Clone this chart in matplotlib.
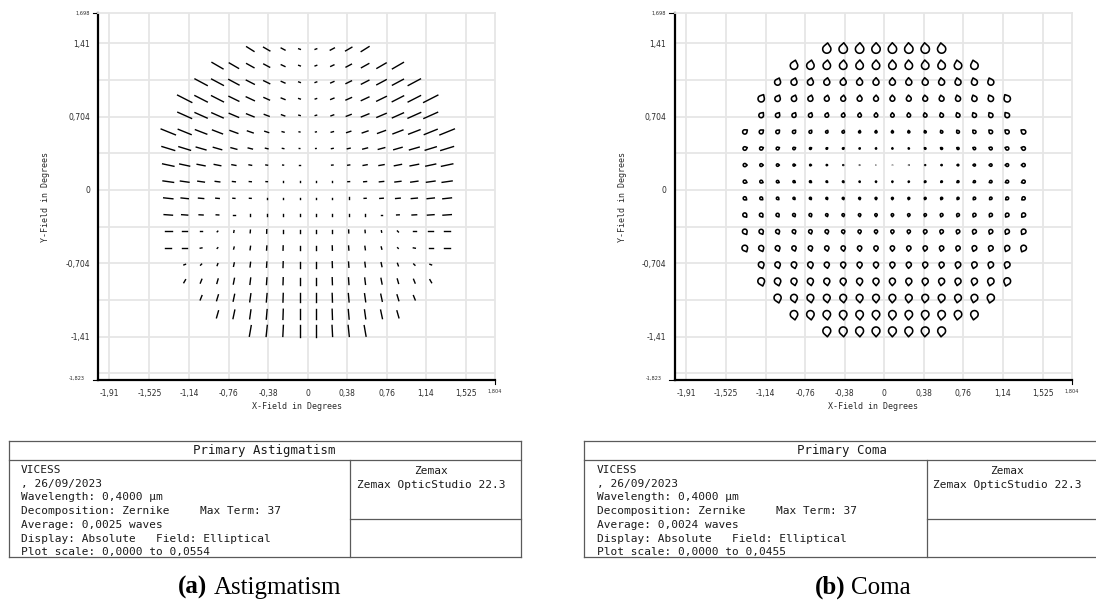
import numpy as np
import matplotlib
matplotlib.use("Agg")
import matplotlib.pyplot as plt
from matplotlib.collections import LineCollection, PatchCollection
from matplotlib.patches import PathPatch
from matplotlib.path import Path
from matplotlib.lines import Line2D

# ---------------------------------------------------------------- data
# field sample grid (degrees)
field_x = [-1.343, -1.185, -1.027, -0.869, -0.711, -0.553, -0.395, -0.237, -0.079,
           0.079, 0.237, 0.395, 0.553, 0.711, 0.869, 1.027, 1.185, 1.343]
field_y = [1.352, 1.193, 1.034, 0.875, 0.716, 0.557, 0.398, 0.239, 0.080,
           -0.080, -0.239, -0.398, -0.557, -0.716, -0.875, -1.034, -1.193, -1.352]

# primary astigmatism per field row (top to bottom), milliwaves
astig_mwaves = [
    [30, 25, 15, 6, 6, 16, 25, 32],
    [44, 37, 29, 23, 14, 6, 6, 12, 21, 29, 37, 44],
    [48, 46, 40, 31, 23, 14, 6, 6, 12, 21, 29, 37, 43, 48],
    [55, 48, 46, 38, 31, 21, 14, 6, 5, 12, 21, 29, 37, 44, 48, 55],
    [52, 46, 43, 35, 28, 18, 12, 5, 5, 10, 18, 28, 35, 42, 48, 52],
    [53, 48, 42, 37, 29, 21, 14, 7, 3, 3, 8, 15, 21, 29, 37, 42, 48, 54],
    [46, 42, 35, 30, 21, 15, 9, 5, 2, 2, 6, 10, 17, 23, 30, 35, 40, 46],
    [40, 35, 28, 23, 14, 9, 6, 3, 2, 1, 5, 7, 14, 18, 25, 30, 35, 40],
    [37, 30, 23, 16, 10, 7, 5, 3, 3, 3, 5, 6, 10, 15, 21, 25, 30, 35],
    [32, 25, 18, 12, 7, 6, 5, 5, 5, 5, 5, 6, 7, 12, 16, 21, 25, 30],
    [29, 21, 14, 9, 6, 6, 6, 7, 7, 7, 7, 6, 6, 6, 9, 16, 23, 29],
    [23, 16, 7, 3, 6, 9, 12, 13, 13, 13, 12, 10, 8, 5, 5, 12, 18, 23],
    [21, 16, 6, 3, 7, 12, 14, 15, 16, 16, 15, 14, 12, 8, 3, 7, 15, 21],
    [6, 5, 7, 12, 16, 18, 20, 21, 21, 20, 18, 16, 14, 9, 6, 6],
    [12, 14, 16, 20, 22, 23, 24, 25, 25, 24, 23, 22, 20, 16, 14, 12],
    [16, 21, 24, 28, 29, 30, 30, 30, 30, 29, 28, 25, 21, 16],
    [25, 30, 31, 33, 35, 35, 35, 35, 33, 31, 30, 25],
    [37, 38, 38, 39, 39, 38, 38, 37],
]
# astigmatism axis orientation, degrees from +x
astig_angle_deg = [
    [-32, -30, -28, -20, 20, 28, 30, 32],
    [-30, -30, -29, -28, -25, -20, 20, 25, 28, 29, 30, 30],
    [-28, -28, -28, -27, -26, -24, -20, 20, 24, 26, 27, 28, 28, 28],
    [-27, -27, -27, -26, -25, -24, -22, -18, 18, 22, 24, 25, 26, 27, 27, 27],
    [-24, -24, -24, -23, -22, -21, -20, -15, 15, 20, 21, 22, 23, 24, 24, 24],
    [-22, -22, -21, -21, -20, -19, -18, -15, -10, 10, 15, 18, 19, 20, 21, 21, 22, 22],
    [-17, -17, -16, -16, -15, -14, -13, -10, -5, 5, 10, 13, 14, 15, 16, 16, 17, 17],
    [-12, -12, -11, -11, -10, -10, -8, -5, 0, 0, 5, 8, 10, 10, 11, 11, 12, 12],
    [-8, -8, -8, -7, -6, -5, -3, 90, 90, 90, 90, 3, 5, 6, 7, 8, 8, 8],
    [-6, -6, -5, -5, -4, -3, 90, 90, 90, 90, 90, 90, 3, 4, 5, 5, 6, 6],
    [-4, -4, -3, -3, 0, 90, 90, 90, 90, 90, 90, 90, 90, 0, 3, 3, 4, 4],
    [0, 0, 0, 45, 80, 85, 88, 90, 90, 90, 90, 92, 95, 100, 135, 180, 180, 180],
    [0, 0, 10, 45, 75, 82, 86, 88, 90, 90, 92, 94, 98, 105, 135, 170, 180, 180],
    [20, 45, 70, 78, 83, 86, 88, 90, 90, 92, 94, 97, 102, 110, 135, 160],
    [60, 68, 74, 79, 83, 86, 88, 90, 90, 92, 94, 97, 101, 106, 112, 120],
    [68, 73, 78, 82, 85, 88, 90, 90, 92, 95, 98, 102, 107, 112],
    [74, 78, 82, 85, 88, 90, 90, 92, 95, 98, 102, 106],
    [80, 84, 87, 90, 90, 93, 96, 100],
]

# primary coma per field row (top to bottom), milliwaves
coma_mwaves = [
    [44, 45, 45, 45, 45, 45, 45, 44],
    [40, 40, 40, 40, 40, 40, 40, 40, 40, 40, 40, 40],
    [32, 32, 32, 32, 32, 32, 32, 32, 32, 32, 32, 32, 32, 32],
    [34, 29, 28, 27, 26, 26, 26, 26, 26, 26, 26, 26, 27, 28, 29, 34],
    [25, 23, 22, 21, 20, 19, 19, 19, 19, 19, 19, 20, 21, 22, 23, 25],
    [23, 21, 19, 17, 15, 13, 13, 11, 11, 11, 11, 11, 13, 15, 17, 19, 21, 23],
    [19, 17, 15, 13, 10, 8, 8, 6, 6, 6, 6, 8, 10, 11, 13, 15, 17, 19],
    [17, 15, 13, 11, 8, 6, 4, 2, 1, 1, 2, 4, 6, 8, 11, 13, 15, 17],
    [17, 15, 13, 11, 10, 8, 8, 6, 6, 6, 6, 8, 8, 10, 11, 13, 15, 17],
    [17, 15, 13, 11, 11, 10, 10, 10, 10, 10, 10, 10, 11, 11, 13, 13, 15, 17],
    [21, 19, 17, 15, 15, 13, 13, 13, 13, 13, 13, 13, 15, 15, 17, 17, 19, 21],
    [25, 23, 21, 19, 19, 19, 17, 17, 17, 17, 17, 19, 19, 19, 21, 21, 23, 25],
    [30, 27, 25, 23, 23, 23, 23, 23, 23, 23, 23, 23, 23, 23, 25, 25, 27, 30],
    [30, 29, 29, 29, 27, 27, 27, 27, 27, 27, 27, 27, 29, 29, 29, 30],
    [36, 34, 32, 32, 32, 32, 32, 32, 32, 32, 32, 32, 32, 32, 34, 36],
    [38, 36, 36, 36, 36, 36, 36, 36, 36, 36, 36, 36, 36, 38],
    [40, 40, 40, 40, 40, 40, 40, 40, 40, 40, 40, 40],
    [42, 42, 42, 42, 42, 42, 42, 42],
]
# coma flare direction, degrees from +x
coma_angle_deg = [
    [82, 84, 87, 89, 91, 93, 96, 98],
    [75, 78, 82, 85, 87, 89, 91, 93, 95, 98, 102, 105],
    [68, 72, 76, 80, 83, 87, 89, 91, 93, 97, 100, 104, 108, 112],
    [60, 64, 68, 72, 76, 81, 85, 88, 92, 95, 99, 104, 108, 112, 116, 120],
    [53, 57, 61, 66, 71, 77, 83, 88, 92, 97, 103, 109, 114, 119, 123, 127],
    [37, 40, 44, 48, 54, 60, 68, 79, 86, 94, 101, 112, 120, 126, 132, 136, 140, 143],
    [20, 22, 25, 28, 32, 38, 46, 60, 80, 100, 120, 134, 142, 148, 152, 155, 158, 160],
    [0, 0, 0, -1, -1, -2, -3, -5, -10, -170, -175, -177, -178, -179, -179, 180, 180, 180],
    [-23, -25, -28, -32, -37, -44, -53, -66, -82, -98, -114, -127, -136, -143, -148, -152, -155, -157],
    [-39, -42, -46, -51, -56, -63, -70, -78, -87, -93, -102, -110, -117, -124, -129, -134, -138, -141],
    [-51, -54, -57, -61, -65, -70, -75, -81, -87, -93, -99, -105, -110, -115, -119, -123, -126, -129],
    [-58, -61, -64, -67, -71, -74, -78, -83, -88, -92, -97, -102, -106, -109, -113, -116, -119, -122],
    [-63, -66, -68, -71, -74, -77, -81, -85, -89, -91, -95, -99, -103, -106, -109, -112, -114, -117],
    [-70, -72, -74, -77, -79, -82, -85, -88, -92, -95, -98, -101, -103, -106, -108, -110],
    [-72, -74, -76, -78, -80, -83, -85, -88, -92, -95, -97, -100, -102, -104, -106, -108],
    [-76, -77, -79, -81, -83, -85, -88, -92, -95, -97, -99, -101, -103, -104],
    [-80, -81, -83, -84, -86, -88, -92, -94, -96, -97, -99, -100],
    [-84, -85, -87, -89, -91, -93, -95, -96],
]

astig_scale_max = 55.4   # milliwaves, "Plot scale" upper bound
coma_scale_max = 45.5

x_ticks = [-1.91, -1.525, -1.14, -0.76, -0.38, 0.0, 0.38, 0.76, 1.14, 1.525]
x_tick_labels = ["-1,91", "-1,525", "-1,14", "-0,76", "-0,38", "0",
                 "0,38", "0,76", "1,14", "1,525"]
y_ticks = [1.41, 0.704, 0.0, -0.704, -1.41]
y_tick_labels = ["1,41", "0,704", "0", "-0,704", "-1,41"]
y_minor_grid = [1.057, 0.352, -0.352, -1.057, -1.76]
x_limits = (-2.02, 1.804)
y_limits = (-1.823, 1.698)
x_end_label, y_top_label, y_bottom_label = "1,804", "1,698", "-1,823"

info_lines_astig = ["VICESS", ", 26/09/2023", "Wavelength: 0,4000 \u00b5m",
                    "Decomposition: Zernike", "Average: 0,0025 waves",
                    "Display: Absolute   Field: Elliptical",
                    "Plot scale: 0,0000 to 0,0554"]
info_lines_coma = ["VICESS", ", 26/09/2023", "Wavelength: 0,4000 \u00b5m",
                   "Decomposition: Zernike", "Average: 0,0024 waves",
                   "Display: Absolute   Field: Elliptical",
                   "Plot scale: 0,0000 to 0,0455"]
max_term_text = "Max Term: 37"
vendor_lines = ["Zemax", "Zemax OpticStudio 22.3"]

# ---------------------------------------------------------------- layout
W, H = 1096, 602
fig = plt.figure(figsize=(W / 100, H / 100), dpi=100)
fig.patch.set_facecolor("white")


def fx(px):
    return px / W


def fy(py):
    return 1 - py / H


GRID = "#e6e6e6"
TXT = "#2b2b2b"
MARK_LEN_MAX = 0.154     # data units for a full-scale astigmatism line
GLYPH_R_MAX = 0.041      # data units for a full-scale coma circle
TIP_K = 1.5


def setup_axes(left_px):
    top, bottom, width = 13, 380, 397
    ax = fig.add_axes([fx(left_px), fy(bottom), width / W, (bottom - top) / H])
    ax.set_xlim(*x_limits)
    ax.set_ylim(*y_limits)
    ax.set_xticks(x_ticks)
    ax.set_xticklabels(x_tick_labels)
    ax.set_yticks(y_ticks)
    ax.set_yticklabels(y_tick_labels)
    ax.set_yticks(y_minor_grid, minor=True)
    ax.tick_params(which="both", length=0)
    ax.tick_params(axis="x", pad=6.3, labelsize=5.5, labelcolor=TXT)
    ax.tick_params(axis="y", pad=5.8, labelsize=5.5, labelcolor=TXT)
    for lab in ax.get_xticklabels() + ax.get_yticklabels():
        lab.set_family("DejaVu Sans")
    ax.grid(True, which="both", color=GRID, lw=1.3)
    ax.set_axisbelow(True)
    for side in ("top", "right"):
        ax.spines[side].set_color(GRID)
        ax.spines[side].set_linewidth(1.3)
    for side in ("left", "bottom"):
        ax.spines[side].set_color("black")
        ax.spines[side].set_linewidth(1.6)
    ax.set_xlabel("X-Field in Degrees", fontsize=6.0, family="DejaVu Sans Mono",
                  color=TXT, labelpad=3.0)
    ax.set_ylabel("Y-Field in Degrees", fontsize=6.0, family="DejaVu Sans Mono",
                  color=TXT, labelpad=11)
    # end-of-range labels with their small ticks
    kw = dict(transform=ax.transAxes, clip_on=False, color="black", lw=0.8)
    ax.add_line(Line2D([-0.013, 0.0], [1.0, 1.0], **kw))
    ax.add_line(Line2D([-0.013, 0.0], [0.0, 0.0], **kw))
    ax.add_line(Line2D([1.0, 1.0], [0.0, -0.011], **kw))
    small = dict(fontsize=3.6, family="DejaVu Sans", color=TXT)
    ax.text(-0.021, 1.0, y_top_label, transform=ax.transAxes, ha="right",
            va="center", **small)
    ax.text(-0.033, 0.004, y_bottom_label, transform=ax.transAxes, ha="right",
            va="center", **small)
    ax.text(1.0, -0.032, x_end_label, transform=ax.transAxes, ha="center",
            va="center", **small)
    return ax


def row_points(values):
    start = (len(field_x) - len(values)) // 2
    return [field_x[start + j] for j in range(len(values))]


def draw_astigmatism(ax):
    segs = []
    for yv, mags, angs in zip(field_y, astig_mwaves, astig_angle_deg):
        for xv, m, a in zip(row_points(mags), mags, angs):
            half = 0.5 * m / astig_scale_max * MARK_LEN_MAX
            t = np.deg2rad(a)
            dx, dy = half * np.cos(t), half * np.sin(t)
            segs.append([(xv - dx, yv - dy), (xv + dx, yv + dy)])
    ax.add_collection(LineCollection(segs, colors="black", linewidths=1.0,
                                     capstyle="projecting", zorder=3))


def teardrop(cx, cy, r, phi, n=30):
    alpha = np.arccos(1.0 / TIP_K)
    th = np.linspace(phi + alpha, phi + 2 * np.pi - alpha, n)
    verts = [(cx + r * np.cos(v), cy + r * np.sin(v)) for v in th]
    verts.append((cx + TIP_K * r * np.cos(phi), cy + TIP_K * r * np.sin(phi)))
    verts.append(verts[0])
    codes = [Path.MOVETO] + [Path.LINETO] * (len(verts) - 1)
    return Path(verts, codes)


def draw_coma(ax):
    patches = []
    for yv, mags, angs in zip(field_y, coma_mwaves, coma_angle_deg):
        for xv, m, a in zip(row_points(mags), mags, angs):
            r = m / coma_scale_max * GLYPH_R_MAX
            patches.append(PathPatch(teardrop(xv, yv, r, np.deg2rad(a))))
    ax.add_collection(PatchCollection(patches, facecolor="none", edgecolor="black",
                                      linewidths=1.15, joinstyle="round", zorder=3))


def draw_info_box(x0, x1, div_x, title, lines, maxterm_x, caption_tag, caption_word,
                  tag_x, word_x):
    top, sep, bottom, div_y = 441, 459.5, 557, 518.5
    kw = dict(transform=fig.transFigure, color="#5a5a5a", lw=0.9)
    for xs, ys in [((x0, x1), (top, top)), ((x0, x1), (sep, sep)),
                   ((x0, x1), (bottom, bottom)), ((x0, x0), (top, bottom)),
                   ((x1, x1), (top, bottom)), ((div_x, div_x), (sep, bottom)),
                   ((div_x, x1), (div_y, div_y))]:
        fig.add_artist(Line2D([fx(xs[0]), fx(xs[1])], [fy(ys[0]), fy(ys[1])], **kw))
    mono = dict(family="DejaVu Sans Mono", color="#1a1a1a")
    fig.text(fx((x0 + x1) / 2), fy(454), title, ha="center", va="baseline",
             fontsize=8.9, **mono)
    tx = x0 + 12.5
    for i, s in enumerate(lines):
        fig.text(fx(tx), fy(473 + 13.75 * i), s, ha="left", va="baseline",
                 fontsize=8.0, **mono)
    fig.text(fx(maxterm_x), fy(473 + 13.75 * 3), max_term_text, ha="left",
             va="baseline", fontsize=8.0, **mono)
    cx = (div_x + min(x1, W)) / 2 - 4
    for i, s in enumerate(vendor_lines):
        fig.text(fx(cx), fy(474 + 13.75 * i), s, ha="center", va="baseline",
                 fontsize=8.0, **mono)
    fig.text(fx(tag_x), fy(594), caption_tag, ha="left", va="baseline",
             fontsize=18, family="Liberation Serif", weight="bold", color="black")
    fig.text(fx(word_x), fy(594), caption_word, ha="left", va="baseline",
             fontsize=18, family="Liberation Serif", color="black")


ax_a = setup_axes(98)
draw_astigmatism(ax_a)
ax_b = setup_axes(674.5)
draw_coma(ax_b)

draw_info_box(8.6, 520.7, 349.5, "Primary Astigmatism", info_lines_astig, 199.7,
              "(a)", "Astigmatism", 178, 214)
draw_info_box(584.3, 1099, 926.7, "Primary Coma", info_lines_coma, 776,
              "(b)", "Coma", 815, 851)

fig.savefig("out.png", dpi=100, facecolor="white")
